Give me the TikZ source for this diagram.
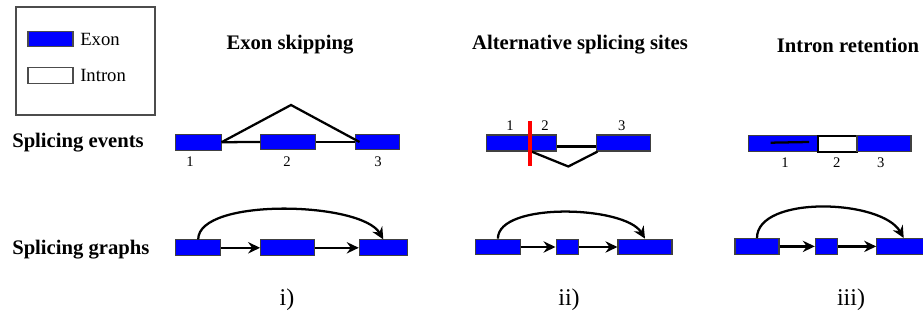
\documentclass[tikz,border=0pt]{standalone}
\usepackage{fontspec}
\setmainfont{Liberation Serif}
\usetikzlibrary{arrows.meta}
\def\pxu{0.75pt}
\begin{document}
\begin{tikzpicture}[x=0.75pt,y=-0.75pt,
  exon/.style={draw=black!75, line width=0.8pt, fill=blue, inner sep=0pt, minimum height=15.7*\pxu},
  intron/.style={draw=black, line width=1.2pt, fill=white, inner sep=0pt, minimum height=16*\pxu},
  swatch/.style={draw=black!70, line width=0.8pt, inner sep=0pt, minimum width=45*\pxu, minimum height=15.5*\pxu},
  link/.style={line width=1.7pt},
  arr/.style={line width=1.7pt, -{Stealth[length=9pt,width=8.5pt,inset=3pt]}},
  num/.style={font=\fontsize{11}{13}\selectfont, inner sep=0pt},
  title/.style={font=\fontsize{15.5}{18}\selectfont\bfseries, inner sep=0pt},
  legtext/.style={font=\fontsize{14}{16}\selectfont, inner sep=0pt, anchor=west},
  roman/.style={font=\fontsize{18}{21}\selectfont, inner sep=0pt}]
\clip (0,0) rectangle (923,320);
\fill[white] (0,0) rectangle (923,320);

% legend
\node[draw=black!70, line width=1.1pt, minimum width=139*\pxu, minimum height=108*\pxu, inner sep=0pt] (legend) at (85.5,61) {};
\node[swatch, fill=blue] (lexon) at (50.5,39) {};
\node[swatch, fill=white] (lintron) at (50.5,75.5) {};
\node[legtext] (lexont) at (80,39) {Exon};
\node[legtext] (lintront) at (80,75.5) {Intron};

% titles
\node[title] (t1) at (290,45) {Exon skipping};
\node[title] (t2) at (580,45) {Alternative splicing sites};
\node[title] (t3) at (848,45) {Intron retention};
\node[title, anchor=west] (rowa) at (12,143) {Splicing events};
\node[title, anchor=west] (rowb) at (12,250) {Splicing graphs};

% exon skipping events
\node[exon, minimum width=45.3*\pxu] (e1) at (198.4,142.2) {};
\node[exon, minimum width=54.3*\pxu] (e2) at (287.9,142) {};
\node[exon, minimum width=44.3*\pxu] (e3) at (377.2,142) {};
\coordinate (epeak) at (291,105);
\draw[link] (e1.east) -- (e2.west);
\draw[link] (e2.east) -- (e3.west);
\draw[link] (e1.east) -- (epeak) -- ([xshift=5*\pxu]e3.west);
\node[num] (en1) at (190,162) {1};
\node[num] (en2) at (287,162) {2};
\node[num] (en3) at (378,162) {3};

% alternative splicing sites events
\node[exon, minimum width=70*\pxu, minimum height=16*\pxu] (a12) at (521.7,143) {};
\node[exon, minimum width=54.3*\pxu, minimum height=16*\pxu] (a3) at (623.8,143) {};
\draw[link] ([yshift=-3.5*\pxu]a12.east) -- ([yshift=-3.5*\pxu]a3.west);
\coordinate (ad) at (530,151);
\coordinate (apeak) at (568.3,166.5);
\draw[link] (ad) -- (apeak) -- ([xshift=1.5*\pxu]a3.south west);
\coordinate (rtop) at (530,121);
\coordinate (rbot) at (530,166);
\draw[red, line width=2.4pt] (rtop) -- (rbot);
\node[num] (an1) at (510,126) {1};
\node[num] (an2) at (545,126) {2};
\node[num] (an3) at (621.7,126) {3};

% intron retention events
\node[exon, minimum width=70*\pxu, minimum height=16*\pxu] (i1) at (783.3,143.7) {};
\node[intron, minimum width=38.7*\pxu] (in2) at (837.6,143.9) {};
\node[exon, minimum width=54*\pxu, minimum height=16*\pxu] (i3) at (884,143.7) {};
\coordinate (il1) at (770.7,142.7);
\coordinate (il2) at (809,142);
\draw[link] (il1) -- (il2);
\node[num] (in1) at (785,162.7) {1};
\node[num] (inn2) at (836.7,162.7) {2};
\node[num] (in3) at (880.7,162.7) {3};

% exon skipping graph
\node[exon, minimum width=45*\pxu] (g1) at (198.2,247.8) {};
\node[exon, minimum width=54.3*\pxu] (g2) at (287.8,247.8) {};
\node[exon, minimum width=48*\pxu] (g3) at (383.3,247.8) {};
\draw[arr] (g1) -- (g2);
\draw[arr] (g2) -- (g3);
\draw[arr] (g1.north) .. controls +(0,-42) and +(-22,-38) .. (g3.north);

% alternative splicing graph
\node[exon, minimum width=44.3*\pxu] (h1) at (497.9,247) {};
\node[exon, minimum width=22.3*\pxu] (h2) at (567.2,247) {};
\node[exon, minimum width=54*\pxu] (h3) at (645,247) {};
\draw[arr] (h1) -- (h2);
\draw[arr] (h2) -- (h3);
\draw[arr] (h1.north) .. controls +(0,-37) and +(-20,-33) .. (h3.north);

% intron retention graph
\node[exon, minimum width=44*\pxu] (k1) at (757,246.4) {};
\node[exon, minimum width=22.4*\pxu] (k2) at (826.5,246.4) {};
\node[exon, minimum width=54*\pxu] (k3) at (903.7,246.4) {};
\draw[arr] (k1) -- (k2);
\draw[arr] (k2) -- (k3);
\draw[arr] (k1.north) .. controls +(0,-43) and +(-22,-39) .. (k3.north);

% roman labels
\node[roman] (r1) at (287,300) {i)};
\node[roman] (r2) at (569,300) {ii)};
\node[roman] (r3) at (851,300) {iii)};
\end{tikzpicture}
\end{document}
